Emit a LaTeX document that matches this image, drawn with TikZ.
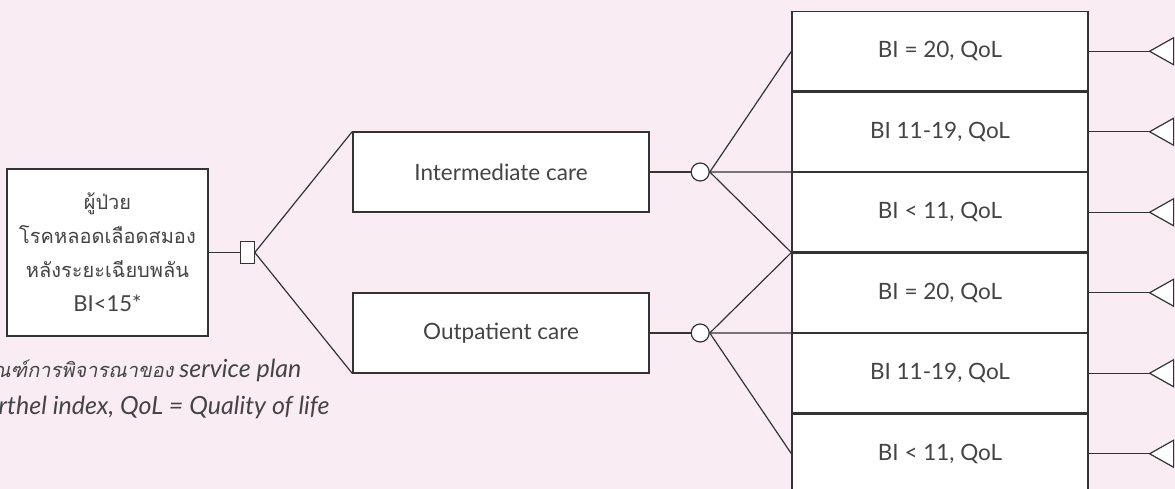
\documentclass[tikz,border=0pt]{standalone}
\usepackage{fontspec}
\setmainfont{Lato}
\newfontfamily\thaifont[Script=Thai,AutoFakeSlant=0.2]{Loma}
\usepackage{tikz}
\usetikzlibrary{positioning}
\definecolor{bgpink}{HTML}{F9EDF3}
\definecolor{linegray}{HTML}{333333}
\definecolor{textgray}{HTML}{444444}

\begin{document}
\begin{tikzpicture}[x=1pt,y=1pt,line width=1.2pt,color=linegray]
	\tikzstyle{block} = [draw, rectangle, fill=white, minimum height=80pt, minimum width=296pt, inner sep=0pt, text=textgray, font=\fontsize{22.5}{28}\selectfont]
	\tikzstyle{outcome} = [block, minimum height=79.3pt]
	\tikzstyle{note} = [anchor=east, inner sep=0pt, text=textgray, font=\itshape\fontsize{25}{30}\selectfont]
	
	\clip (0,0) rectangle (1175,-489);
	\fill[bgpink] (0,0) rectangle (1175,-489);
	
	\node[block, minimum height=167pt, minimum width=201pt, align=center, font=\thaifont\fontsize{20}{34}\selectfont] (patient) at (107.5,-252.5) {ผู้ป่วย\\โรคหลอดเลือดสมอง\\หลังระยะเฉียบพลัน\\{\rmfamily\fontsize{22}{34}\selectfont BI<15*}};
	
	\node[draw, rectangle, fill=white, minimum height=22pt, minimum width=14pt, inner sep=0pt, right = 31pt of patient] (decision) {};
	
	\node[block] (intermediate) at (501,-172) {Intermediate care};
	\node[block] (outpatient) at (501,-333) {Outpatient care};
	
	\node[draw, circle, fill=white, minimum size=18pt, inner sep=0pt, right = 41pt of intermediate] (chance1) {};
	\node[draw, circle, fill=white, minimum size=18pt, inner sep=0pt, right = 41pt of outpatient] (chance2) {};
	
	\node[outcome] (bi20a) at (940,-51.25) {BI = 20, QoL};
	\node[outcome, below = 0pt of bi20a] (bi1119a) {BI 11-19, QoL};
	\node[outcome, below = 0pt of bi1119a] (bi11a) {BI < 11, QoL};
	\node[outcome, below = 0pt of bi11a] (bi20b) {BI = 20, QoL};
	\node[outcome, below = 0pt of bi20b] (bi1119b) {BI 11-19, QoL};
	\node[outcome, below = 0pt of bi1119b] (bi11b) {BI < 11, QoL};
	
	\node[note] (note1) at (302,-370) {{\thaifont\fontsize{20}{30}\selectfont *เกณฑ์การพิจารณาของ} service plan};
	\node[note] (note2) at (330,-407) {BI = Barthel index, QoL = Quality of life};
	
	\draw (patient) -- (decision);
	\draw (decision.east) -- (intermediate.north west);
	\draw (decision.east) -- (outpatient.south west);
	\draw (intermediate) -- (chance1);
	\draw (outpatient) -- (chance2);
	
	\draw (chance1.east) -- (bi20a.west);
	\draw (chance1.east) -- (bi1119a.south west);
	\draw (chance1.east) -- (bi11a.south west);
	\draw (chance2.east) -- (bi11a.south west);
	\draw (chance2.east) -- (bi20b.south west);
	\draw (chance2.east) -- (bi11b.west);
	
	% terminal nodes
	\foreach \o in {bi20a,bi1119a,bi11a,bi20b,bi1119b,bi11b}{
		\coordinate[right = 61pt of \o.east] (end-\o);
		\draw (\o) -- (end-\o);
		\draw[fill=white] (end-\o) -- ++(24,13.5) -- ++(0,-27) -- cycle;
	}
	
\end{tikzpicture}
\end{document}
